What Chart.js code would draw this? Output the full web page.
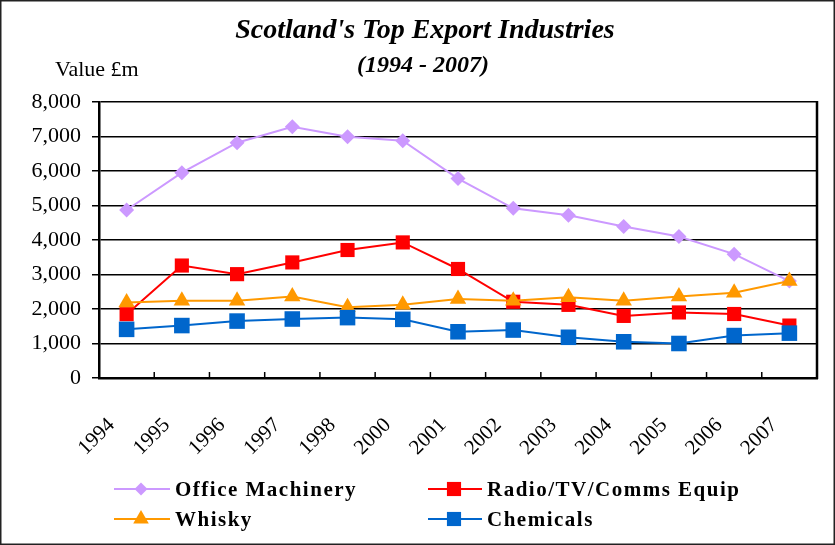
<!DOCTYPE html>
<html><head><meta charset="utf-8">
<script src="https://cdn.jsdelivr.net/npm/chart.js@4/dist/chart.umd.min.js"></script>
<style>html,body{margin:0;padding:0;background:#fff}#wrap{width:835px;height:545px;position:relative}</style>
</head><body><div id="wrap"><canvas id="c" width="835" height="545"></canvas></div>
<script>
const years = ['1994','1995','1996','1997','1998','2000','2001','2002','2003','2004','2005','2006','2007'];
const officeMachinery = [4870,5950,6820,7280,6990,6880,5780,4920,4720,4390,4100,3590,2810];
const radioTvComms    = [1850,3260,3010,3350,3710,3930,3160,2210,2120,1800,1900,1855,1520];
const whisky          = [2190,2240,2240,2360,2050,2120,2290,2240,2340,2240,2360,2470,2810];
const chemicals       = [1410,1520,1650,1710,1750,1700,1340,1390,1180,1050,1000,1230,1300];
const seriesNames = ['Office Machinery','Radio/TV/Comms Equip','Whisky','Chemicals'];
const yMin = 0, yMax = 8000, yStep = 1000;
const titleText = "Scotland's Top Export Industries";
const subtitleText = '(1994 - 2007)';
const yAxisTitle = 'Value £m';

const SERIF = "'Liberation Serif','Times New Roman',serif";

function drawMarker(ctx, style, x, y, r, color) {
  ctx.save();
  ctx.fillStyle = color;
  ctx.beginPath();
  if (style === 'rect') {
    const s = r * Math.SQRT1_2;
    ctx.rect(x - s, y - s, 2 * s, 2 * s);
  } else if (style === 'rectRot') {
    ctx.moveTo(x, y - r); ctx.lineTo(x + r, y); ctx.lineTo(x, y + r); ctx.lineTo(x - r, y); ctx.closePath();
  } else if (style === 'triangle') {
    const a = Math.PI / 180;
    ctx.moveTo(x, y - r);
    ctx.lineTo(x + Math.sin(120 * a) * r, y - Math.cos(120 * a) * r);
    ctx.lineTo(x + Math.sin(240 * a) * r, y - Math.cos(240 * a) * r);
    ctx.closePath();
  }
  ctx.fill();
  ctx.restore();
}

const decorPlugin = {
  id: 'decor',
  beforeDraw(chart) {
    const ctx = chart.ctx;
    ctx.save();
    ctx.fillStyle = '#fff';
    ctx.fillRect(0, 0, chart.width, chart.height);
    ctx.restore();
  },
  afterDatasetsDraw(chart) {
    const ctx = chart.ctx;
    const area = chart.chartArea;
    const xs = chart.scales.x;
    ctx.save();
    ctx.strokeStyle = '#000';
    ctx.lineWidth = 2.5;
    ctx.beginPath();
    ctx.moveTo(area.right, area.top - 1);
    ctx.lineTo(area.right, area.bottom + 1);
    ctx.stroke();
    ctx.lineWidth = 1.5;
    for (let i = 1; i < years.length; i++) {
      const px = (xs.getPixelForValue(i - 1) + xs.getPixelForValue(i)) / 2;
      ctx.beginPath();
      ctx.moveTo(px, area.bottom - 6);
      ctx.lineTo(px, area.bottom);
      ctx.stroke();
    }
    ctx.restore();
  },
  afterDraw(chart) {
    const ctx = chart.ctx;
    ctx.save();
    ctx.strokeStyle = '#222';
    ctx.lineWidth = 1.5;
    ctx.strokeRect(0.75, 0.75, chart.width - 1.5, chart.height - 1.5);
    ctx.fillStyle = '#000';
    ctx.textAlign = 'center';
    ctx.textBaseline = 'alphabetic';
    ctx.font = 'italic bold 28px ' + SERIF;
    ctx.fillText(titleText, 425, 38);
    ctx.font = 'italic bold 24px ' + SERIF;
    ctx.fillText(subtitleText, 423, 72);
    ctx.textAlign = 'left';
    ctx.font = '22px ' + SERIF;
    ctx.fillText(yAxisTitle, 55, 76);
    const pos = [
      {lx1: 114, lx2: 170, mx: 141, tx: 175, y: 489},
      {lx1: 428, lx2: 482, mx: 454, tx: 487, y: 489},
      {lx1: 114, lx2: 170, mx: 141, tx: 175, y: 519},
      {lx1: 428, lx2: 482, mx: 454, tx: 487, y: 519}
    ];
    const legendR = {rectRot: 6.5, rect: 10, triangle: 9};
    chart.data.datasets.forEach((ds, i) => {
      const p = pos[i];
      ctx.strokeStyle = ds.borderColor;
      ctx.lineWidth = 2;
      ctx.beginPath();
      ctx.moveTo(p.lx1, p.y); ctx.lineTo(p.lx2, p.y);
      ctx.stroke();
      drawMarker(ctx, ds.pointStyle, p.mx, p.y, legendR[ds.pointStyle], ds.pointBackgroundColor);
      ctx.fillStyle = '#000';
      ctx.font = 'bold 21px ' + SERIF;
      ctx.letterSpacing = '1.5px';
      ctx.textBaseline = 'alphabetic';
      ctx.fillText(ds.label, p.tx, p.y + 7);
      ctx.letterSpacing = '0px';
    });
    ctx.restore();
  }
};

function mk(label, data, color, style, r, order) {
  return {
    label, data, borderColor: color, backgroundColor: color,
    pointBackgroundColor: color, pointBorderColor: color, pointBorderWidth: 0,
    pointStyle: style, pointRadius: r, pointHoverRadius: r,
    borderWidth: 2, tension: 0, fill: false, order
  };
}

new Chart(document.getElementById('c'), {
  type: 'line',
  data: {
    labels: years,
    datasets: [
      mk(seriesNames[0], officeMachinery, '#CC99FF', 'rectRot', 7.5, 4),
      mk(seriesNames[1], radioTvComms, '#FF0000', 'rect', 10, 3),
      mk(seriesNames[2], whisky, '#FF9900', 'triangle', 9.5, 2),
      mk(seriesNames[3], chemicals, '#0066CC', 'rect', 11, 1)
    ]
  },
  options: {
    responsive: false,
    devicePixelRatio: 1,
    animation: false,
    events: [],
    layout: { padding: { top: 102, right: 18, bottom: 87, left: 0 } },
    plugins: { legend: { display: false }, title: { display: false }, tooltip: { enabled: false } },
    scales: {
      x: {
        offset: true,
        grid: { display: true, offset: true, drawOnChartArea: false, drawTicks: false, color: '#000' },
        border: { display: true, color: '#000', width: 2.5 },
        ticks: {
          autoSkip: false, maxRotation: 45, minRotation: 45, labelOffset: -15, padding: 35,
          color: '#000', font: { family: SERIF, size: 21 }
        },
        afterFit(scale) { scale.height = 80; scale.paddingLeft = 0; scale.paddingRight = 0; }
      },
      y: {
        min: yMin, max: yMax,
        grid: { color: '#000', lineWidth: 1.5, tickLength: 7, drawTicks: true },
        border: { display: true, color: '#000', width: 2.5 },
        ticks: {
          stepSize: yStep, padding: 11, color: '#000',
          font: { family: SERIF, size: 22 },
          callback: v => Number(v).toLocaleString('en-US')
        },
        afterFit(scale) { scale.width = 99; }
      }
    }
  },
  plugins: [decorPlugin]
});
</script>
</body></html>
